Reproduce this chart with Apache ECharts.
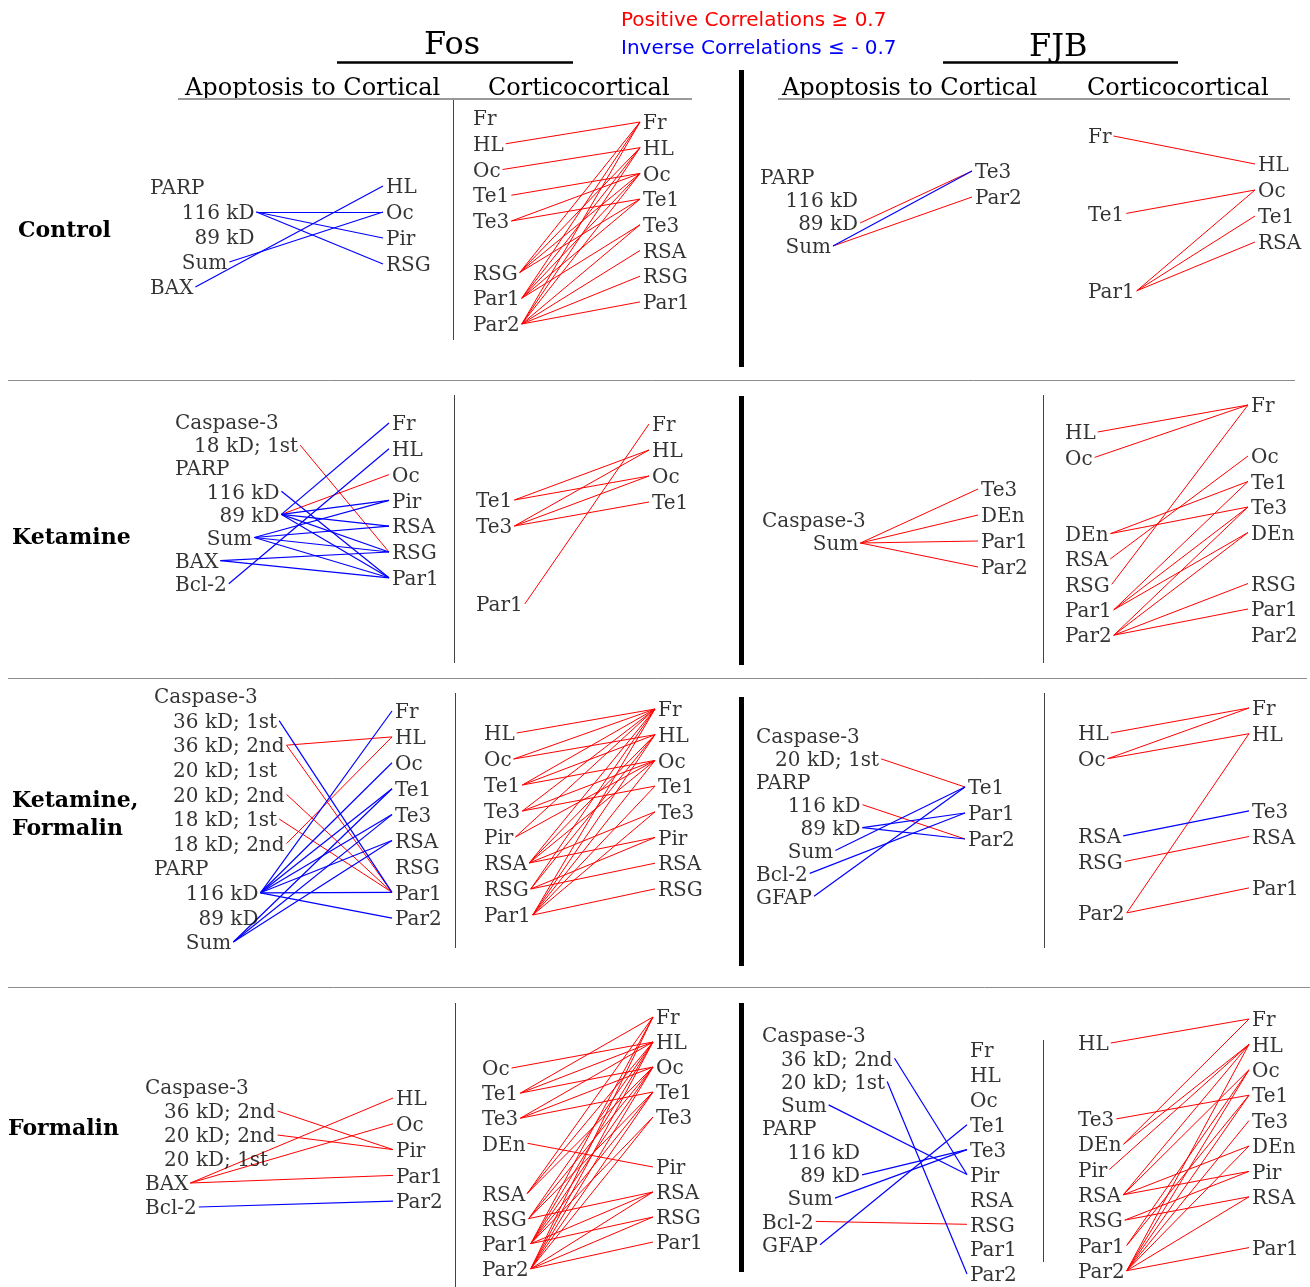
<!DOCTYPE html>
<html>
<head>
<meta charset="utf-8">
<script src="https://cdn.jsdelivr.net/npm/echarts@6/dist/echarts.min.js"></script>
<style>
  html, body { margin: 0; padding: 0; background: #fff; }
  #chart { width: 1310px; height: 1287px; }
</style>
</head>
<body>
<div id="chart"></div>
<script>
// ---- data: label columns and correlation links ([left index, right index]) ----
// '' = empty slot in a column
const ctrlFosApoLeft = ['PARP', '     116 kD', '       89 kD', '     Sum', 'BAX'];
const ctrlFosApoRight = ['HL', 'Oc', 'Pir', 'RSG'];
const ctrlFosApoPos = [];
const ctrlFosApoNeg = [[1, 1], [1, 2], [1, 3], [3, 1], [4, 0]];

const ctrlFosCcLeft = ['Fr', 'HL', 'Oc', 'Te1', 'Te3', '', 'RSG', 'Par1', 'Par2'];
const ctrlFosCcRight = ['Fr', 'HL', 'Oc', 'Te1', 'Te3', 'RSA', 'RSG', 'Par1'];
const ctrlFosCcPos = [[1, 0], [2, 1], [3, 2], [4, 2], [4, 3],
  [6, 0], [6, 1], [6, 2], [6, 3],
  [7, 0], [7, 1], [7, 2], [7, 3], [7, 4],
  [8, 0], [8, 1], [8, 2], [8, 4], [8, 5], [8, 6], [8, 7]];
const ctrlFosCcNeg = [];

const ctrlFjbApoLeft = ['PARP', '    116 kD', '      89 kD', '    Sum'];
const ctrlFjbApoRight = ['Te3', 'Par2'];
const ctrlFjbApoPos = [[2, 0], [3, 1]];
const ctrlFjbApoNeg = [[3, 0]];

const ctrlFjbCcLeft = ['Fr', '', '', 'Te1', '', '', 'Par1'];
const ctrlFjbCcRight = ['HL', 'Oc', 'Te1', 'RSA'];
const ctrlFjbCcPos = [[0, 0], [3, 1], [6, 1], [6, 2], [6, 3]];
const ctrlFjbCcNeg = [];

const ketFosApoLeft = ['Caspase-3', '   18 kD; 1st', 'PARP', '     116 kD', '       89 kD', '     Sum', 'BAX', 'Bcl-2'];
const ketFosApoRight = ['Fr', 'HL', 'Oc', 'Pir', 'RSA', 'RSG', 'Par1'];
const ketFosApoPos = [[1, 5], [4, 2]];
const ketFosApoNeg = [[3, 6], [4, 0], [4, 3], [4, 4], [4, 5], [4, 6],
  [5, 3], [5, 4], [5, 5], [5, 6], [6, 5], [6, 6], [7, 1]];

const ketFosCcLeft = ['Te1', 'Te3', '', '', 'Par1'];
const ketFosCcRight = ['Fr', 'HL', 'Oc', 'Te1'];
const ketFosCcPos = [[0, 1], [0, 2], [1, 1], [1, 2], [1, 3], [4, 0]];
const ketFosCcNeg = [];

const ketFjbApoLeft = ['Caspase-3', '        Sum'];
const ketFjbApoRight = ['Te3', 'DEn', 'Par1', 'Par2'];
const ketFjbApoPos = [[1, 0], [1, 1], [1, 2], [1, 3]];
const ketFjbApoNeg = [];

const ketFjbCcLeft = ['HL', 'Oc', '', '', 'DEn', 'RSA', 'RSG', 'Par1', 'Par2'];
const ketFjbCcRight = ['Fr', '', 'Oc', 'Te1', 'Te3', 'DEn', '', 'RSG', 'Par1', 'Par2'];
const ketFjbCcPos = [[0, 0], [1, 0], [4, 3], [4, 4], [5, 2], [6, 0],
  [7, 3], [7, 4], [7, 5], [8, 4], [8, 5], [8, 7], [8, 8]];
const ketFjbCcNeg = [];

const kfFosApoLeft = ['Caspase-3', '   36 kD; 1st', '   36 kD; 2nd', '   20 kD; 1st', '   20 kD; 2nd',
  '   18 kD; 1st', '   18 kD; 2nd', 'PARP', '     116 kD', '       89 kD', '     Sum'];
const kfFosApoRight = ['Fr', 'HL', 'Oc', 'Te1', 'Te3', 'RSA', 'RSG', 'Par1', 'Par2'];
const kfFosApoPos = [[2, 1], [2, 7], [4, 7], [5, 7], [6, 1]];
const kfFosApoNeg = [[1, 7], [8, 0], [8, 2], [8, 3], [8, 4], [8, 5], [8, 7], [8, 8],
  [10, 3], [10, 4], [10, 5]];

const kfFosCcLeft = ['HL', 'Oc', 'Te1', 'Te3', 'Pir', 'RSA', 'RSG', 'Par1'];
const kfFosCcRight = ['Fr', 'HL', 'Oc', 'Te1', 'Te3', 'Pir', 'RSA', 'RSG'];
const kfFosCcPos = [[0, 0], [1, 0], [1, 1], [2, 0], [2, 1], [2, 2], [3, 0], [3, 2], [3, 3],
  [4, 0], [4, 2], [5, 0], [5, 1], [5, 2], [5, 4], [5, 5], [6, 0], [6, 1], [6, 5], [6, 6],
  [7, 0], [7, 1], [7, 2], [7, 3], [7, 4], [7, 7]];
const kfFosCcNeg = [];

const kfFjbApoLeft = ['Caspase-3', '   20 kD; 1st', 'PARP', '     116 kD', '       89 kD', '     Sum', 'Bcl-2', 'GFAP'];
const kfFjbApoRight = ['Te1', 'Par1', 'Par2'];
const kfFjbApoPos = [[1, 0], [3, 2]];
const kfFjbApoNeg = [[4, 1], [4, 2], [5, 0], [6, 1], [7, 0]];

const kfFjbCcLeft = ['HL', 'Oc', '', '', 'RSA', 'RSG', '', 'Par2'];
const kfFjbCcRight = ['Fr', 'HL', '', '', 'Te3', 'RSA', '', 'Par1'];
const kfFjbCcPos = [[0, 0], [1, 0], [1, 1], [5, 5], [7, 1], [7, 7]];
const kfFjbCcNeg = [[4, 4]];

const formFosApoLeft = ['Caspase-3', '   36 kD; 2nd', '   20 kD; 2nd', '   20 kD; 1st', 'BAX', 'Bcl-2'];
const formFosApoRight = ['HL', 'Oc', 'Pir', 'Par1', 'Par2'];
const formFosApoPos = [[1, 2], [2, 2], [4, 0], [4, 1], [4, 3]];
const formFosApoNeg = [[5, 4]];

const formFosCcLeft = ['Oc', 'Te1', 'Te3', 'DEn', '', 'RSA', 'RSG', 'Par1', 'Par2'];
const formFosCcRight = ['Fr', 'HL', 'Oc', 'Te1', 'Te3', '', 'Pir', 'RSA', 'RSG', 'Par1'];
const formFosCcPos = [[0, 1], [1, 0], [1, 1], [1, 2], [2, 1], [2, 2], [2, 3], [3, 6],
  [5, 0], [5, 1], [5, 2], [6, 1], [6, 2], [6, 3], [6, 7],
  [7, 0], [7, 1], [7, 2], [7, 3], [7, 4], [7, 7], [7, 8],
  [8, 0], [8, 1], [8, 2], [8, 3], [8, 4], [8, 7], [8, 8], [8, 9]];
const formFosCcNeg = [];

const formFjbApoLeft = ['Caspase-3', '   36 kD; 2nd', '   20 kD; 1st', '   Sum', 'PARP',
  '    116 kD', '      89 kD', '    Sum', 'Bcl-2', 'GFAP'];
const formFjbApoRight = ['Fr', 'HL', 'Oc', 'Te1', 'Te3', 'Pir', 'RSA', 'RSG', 'Par1', 'Par2'];
const formFjbApoPos = [[8, 7]];
const formFjbApoNeg = [[1, 5], [2, 9], [3, 5], [6, 4], [7, 4], [9, 3]];

const formFjbCcLeft = ['HL', '', '', 'Te3', 'DEn', 'Pir', 'RSA', 'RSG', 'Par1', 'Par2'];
const formFjbCcRight = ['Fr', 'HL', 'Oc', 'Te1', 'Te3', 'DEn', 'Pir', 'RSA', '', 'Par1'];
const formFjbCcPos = [[0, 0], [3, 3], [4, 0], [4, 1], [5, 1], [6, 1], [6, 2], [6, 5], [6, 6],
  [7, 6], [7, 7], [8, 2], [8, 3], [9, 1], [9, 2], [9, 3], [9, 4], [9, 5], [9, 7], [9, 9]];
const formFjbCcNeg = [];

const rowNames = ['Control', 'Ketamine', 'Ketamine,\nFormalin', 'Formalin'];

// ---- layout of each panel (text start x, first row y, row step) ----
const panels = [
  { l: ctrlFosApoLeft, r: ctrlFosApoRight, pos: ctrlFosApoPos, neg: ctrlFosApoNeg, lx: 150, ly: 187, ldy: 25, rx: 386, ry: 186, rdy: 26 },
  { l: ctrlFosCcLeft, r: ctrlFosCcRight, pos: ctrlFosCcPos, neg: ctrlFosCcNeg, lx: 473, ly: 118, ldy: 25.75, rx: 643, ry: 122, rdy: 25.7 },
  { l: ctrlFjbApoLeft, r: ctrlFjbApoRight, pos: ctrlFjbApoPos, neg: ctrlFjbApoNeg, lx: 760, ly: 177, ldy: 23, rx: 975, ry: 171, rdy: 26 },
  { l: ctrlFjbCcLeft, r: ctrlFjbCcRight, pos: ctrlFjbCcPos, neg: ctrlFjbCcNeg, lx: 1088, ly: 136, ldy: 25.8, rx: 1258, ry: 164, rdy: 26 },

  { l: ketFosApoLeft, r: ketFosApoRight, pos: ketFosApoPos, neg: ketFosApoNeg, lx: 175, ly: 422, ldy: 23.1, rx: 392, ry: 423, rdy: 25.8 },
  { l: ketFosCcLeft, r: ketFosCcRight, pos: ketFosCcPos, neg: ketFosCcNeg, lx: 476, ly: 500, ldy: 26, rx: 652, ry: 424, rdy: 26 },
  { l: ketFjbApoLeft, r: ketFjbApoRight, pos: ketFjbApoPos, neg: ketFjbApoNeg, lx: 762, ly: 520, ldy: 23, rx: 981, ry: 489, rdy: 26 },
  { l: ketFjbCcLeft, r: ketFjbCcRight, pos: ketFjbCcPos, neg: ketFjbCcNeg, lx: 1065, ly: 432, ldy: 25.4, rx: 1251, ry: 405, rdy: 25.5 },

  { l: kfFosApoLeft, r: kfFosApoRight, pos: kfFosApoPos, neg: kfFosApoNeg, lx: 154, ly: 696, ldy: 24.6, rx: 395, ry: 711, rdy: 25.9 },
  { l: kfFosCcLeft, r: kfFosCcRight, pos: kfFosCcPos, neg: kfFosCcNeg, lx: 484, ly: 733, ldy: 26, rx: 658, ry: 709, rdy: 25.7 },
  { l: kfFjbApoLeft, r: kfFjbApoRight, pos: kfFjbApoPos, neg: kfFjbApoNeg, lx: 756, ly: 736, ldy: 22.9, rx: 968, ry: 787, rdy: 26 },
  { l: kfFjbCcLeft, r: kfFjbCcRight, pos: kfFjbCcPos, neg: kfFjbCcNeg, lx: 1078, ly: 733, ldy: 25.7, rx: 1252, ry: 708, rdy: 25.7 },

  { l: formFosApoLeft, r: formFosApoRight, pos: formFosApoPos, neg: formFosApoNeg, lx: 145, ly: 1087, ldy: 24, rx: 396, ry: 1098, rdy: 25.8 },
  { l: formFosCcLeft, r: formFosCcRight, pos: formFosCcPos, neg: formFosCcNeg, lx: 482, ly: 1068, ldy: 25.1, rx: 656, ry: 1017, rdy: 25 },
  { l: formFjbApoLeft, r: formFjbApoRight, pos: formFjbApoPos, neg: formFjbApoNeg, lx: 762, ly: 1035, ldy: 23.3, rx: 970, ry: 1050, rdy: 24.9 },
  { l: formFjbCcLeft, r: formFjbCcRight, pos: formFjbCcPos, neg: formFjbCcNeg, lx: 1078, ly: 1043, ldy: 25.3, rx: 1252, ry: 1019, rdy: 25.4 }
];
const rowLabelPos = [[18, 231], [12, 538], [12, 815], [8, 1129]];

const SERIF = '"DejaVu Serif", serif';
const LABEL_SIZE = 20;
const RED = '#ff0000', BLUE = '#0000ff';

const ctx = document.createElement('canvas').getContext('2d');
ctx.font = LABEL_SIZE + 'px ' + SERIF;
const textW = s => ctx.measureText(s).width;

const labelPts = [];
const posLinks = [];
const negLinks = [];
panels.forEach(p => {
  const lPt = i => [p.lx, p.ly + i * p.ldy];
  const rPt = i => [p.rx, p.ry + i * p.rdy];
  p.l.forEach((t, i) => { if (t) labelPts.push({ name: t, value: lPt(i) }); });
  p.r.forEach((t, i) => { if (t) labelPts.push({ name: t, value: rPt(i) }); });
  const link = ([a, b]) => ({
    coords: [[p.lx + textW(p.l[a]) + 2, lPt(a)[1]], [p.rx - 3, rPt(b)[1]]]
  });
  p.pos.forEach(e => posLinks.push(link(e)));
  p.neg.forEach(e => negLinks.push(link(e)));
});

// frame lines: separators, header underlines
const GREY = '#8c8c8c';
const seg = (x1, y1, x2, y2, color, width) => ({ coords: [[x1, y1], [x2, y2]], lineStyle: { color, width, opacity: 1 } });
const frame = [
  seg(337, 62, 573, 62, '#000', 2.5), seg(943, 62, 1178, 62, '#000', 2.5),
  seg(178, 99, 692, 99, '#999', 2), seg(778, 99, 1290, 99, '#999', 2),
  seg(8, 380, 1295, 380, GREY, 1), seg(8, 678, 1307, 678, GREY, 1), seg(8, 987, 1310, 987, GREY, 1),
  seg(741, 70, 741, 367, '#000', 5), seg(741, 396, 741, 665, '#000', 5),
  seg(741, 697, 741, 966, '#000', 5), seg(741, 1003, 741, 1272, '#000', 5),
  seg(453, 100, 453, 340, '#444', 1), seg(454, 395, 454, 663, '#444', 1),
  seg(455, 693, 455, 948, '#444', 1), seg(455, 1003, 455, 1287, '#444', 1),
  seg(1043, 395, 1043, 663, '#444', 1), seg(1044, 693, 1044, 948, '#444', 1),
  seg(1043, 1040, 1043, 1262, '#444', 1)
];

const txt = (x, y, text, style) => ({ type: 'text', x, y, silent: true,
  style: Object.assign({ text, fill: '#000', font: '24px ' + SERIF, textVerticalAlign: 'middle' }, style) });

const chart = echarts.init(document.getElementById('chart'), null, { renderer: 'canvas' });
chart.setOption({
  animation: false,
  backgroundColor: '#fff',
  grid: { left: 0, right: 0, top: 0, bottom: 0 },
  xAxis: { type: 'value', min: 0, max: 1310, show: false },
  yAxis: { type: 'value', min: 0, max: 1287, inverse: true, show: false },
  graphic: [
    txt(621, 21, 'Positive Correlations \u2265 0.7', { fill: RED, font: '20px "DejaVu Sans", sans-serif' }),
    txt(621, 49, 'Inverse Correlations \u2264 - 0.7', { fill: BLUE, font: '20px "DejaVu Sans", sans-serif' }),
    txt(424, 46, 'Fos', { font: '32px ' + SERIF }),
    txt(1029, 48, 'FJB', { font: '32px ' + SERIF }),
    txt(185, 89, 'Apoptosis to Cortical'),
    txt(488, 89, 'Corticocortical'),
    txt(782, 89, 'Apoptosis to Cortical'),
    txt(1087, 89, 'Corticocortical'),
    txt(rowLabelPos[0][0], rowLabelPos[0][1], rowNames[0], { font: 'bold 22px ' + SERIF }),
    txt(rowLabelPos[1][0], rowLabelPos[1][1], rowNames[1], { font: 'bold 22px ' + SERIF }),
    txt(rowLabelPos[2][0], rowLabelPos[2][1], rowNames[2], { font: 'bold 22px ' + SERIF, lineHeight: 28 }),
    txt(rowLabelPos[3][0], rowLabelPos[3][1], rowNames[3], { font: 'bold 22px ' + SERIF })
  ],
  series: [
    {
      type: 'lines', coordinateSystem: 'cartesian2d', silent: true, z: 1,
      lineStyle: { opacity: 1 },
      data: frame
    },
    {
      name: 'Positive', type: 'lines', coordinateSystem: 'cartesian2d', silent: true, z: 2,
      lineStyle: { color: RED, width: 1, opacity: 1 },
      data: posLinks
    },
    {
      name: 'Inverse', type: 'lines', coordinateSystem: 'cartesian2d', silent: true, z: 3,
      lineStyle: { color: BLUE, width: 1.2, opacity: 1 },
      data: negLinks
    },
    {
      type: 'scatter', silent: true, z: 4,
      symbolSize: 0,
      data: labelPts,
      label: {
        show: true, position: 'right', distance: 0, offset: [0, 2],
        formatter: '{b}',
        color: '#000', fontFamily: SERIF, fontSize: LABEL_SIZE
      }
    }
  ]
});
</script>
</body>
</html>
